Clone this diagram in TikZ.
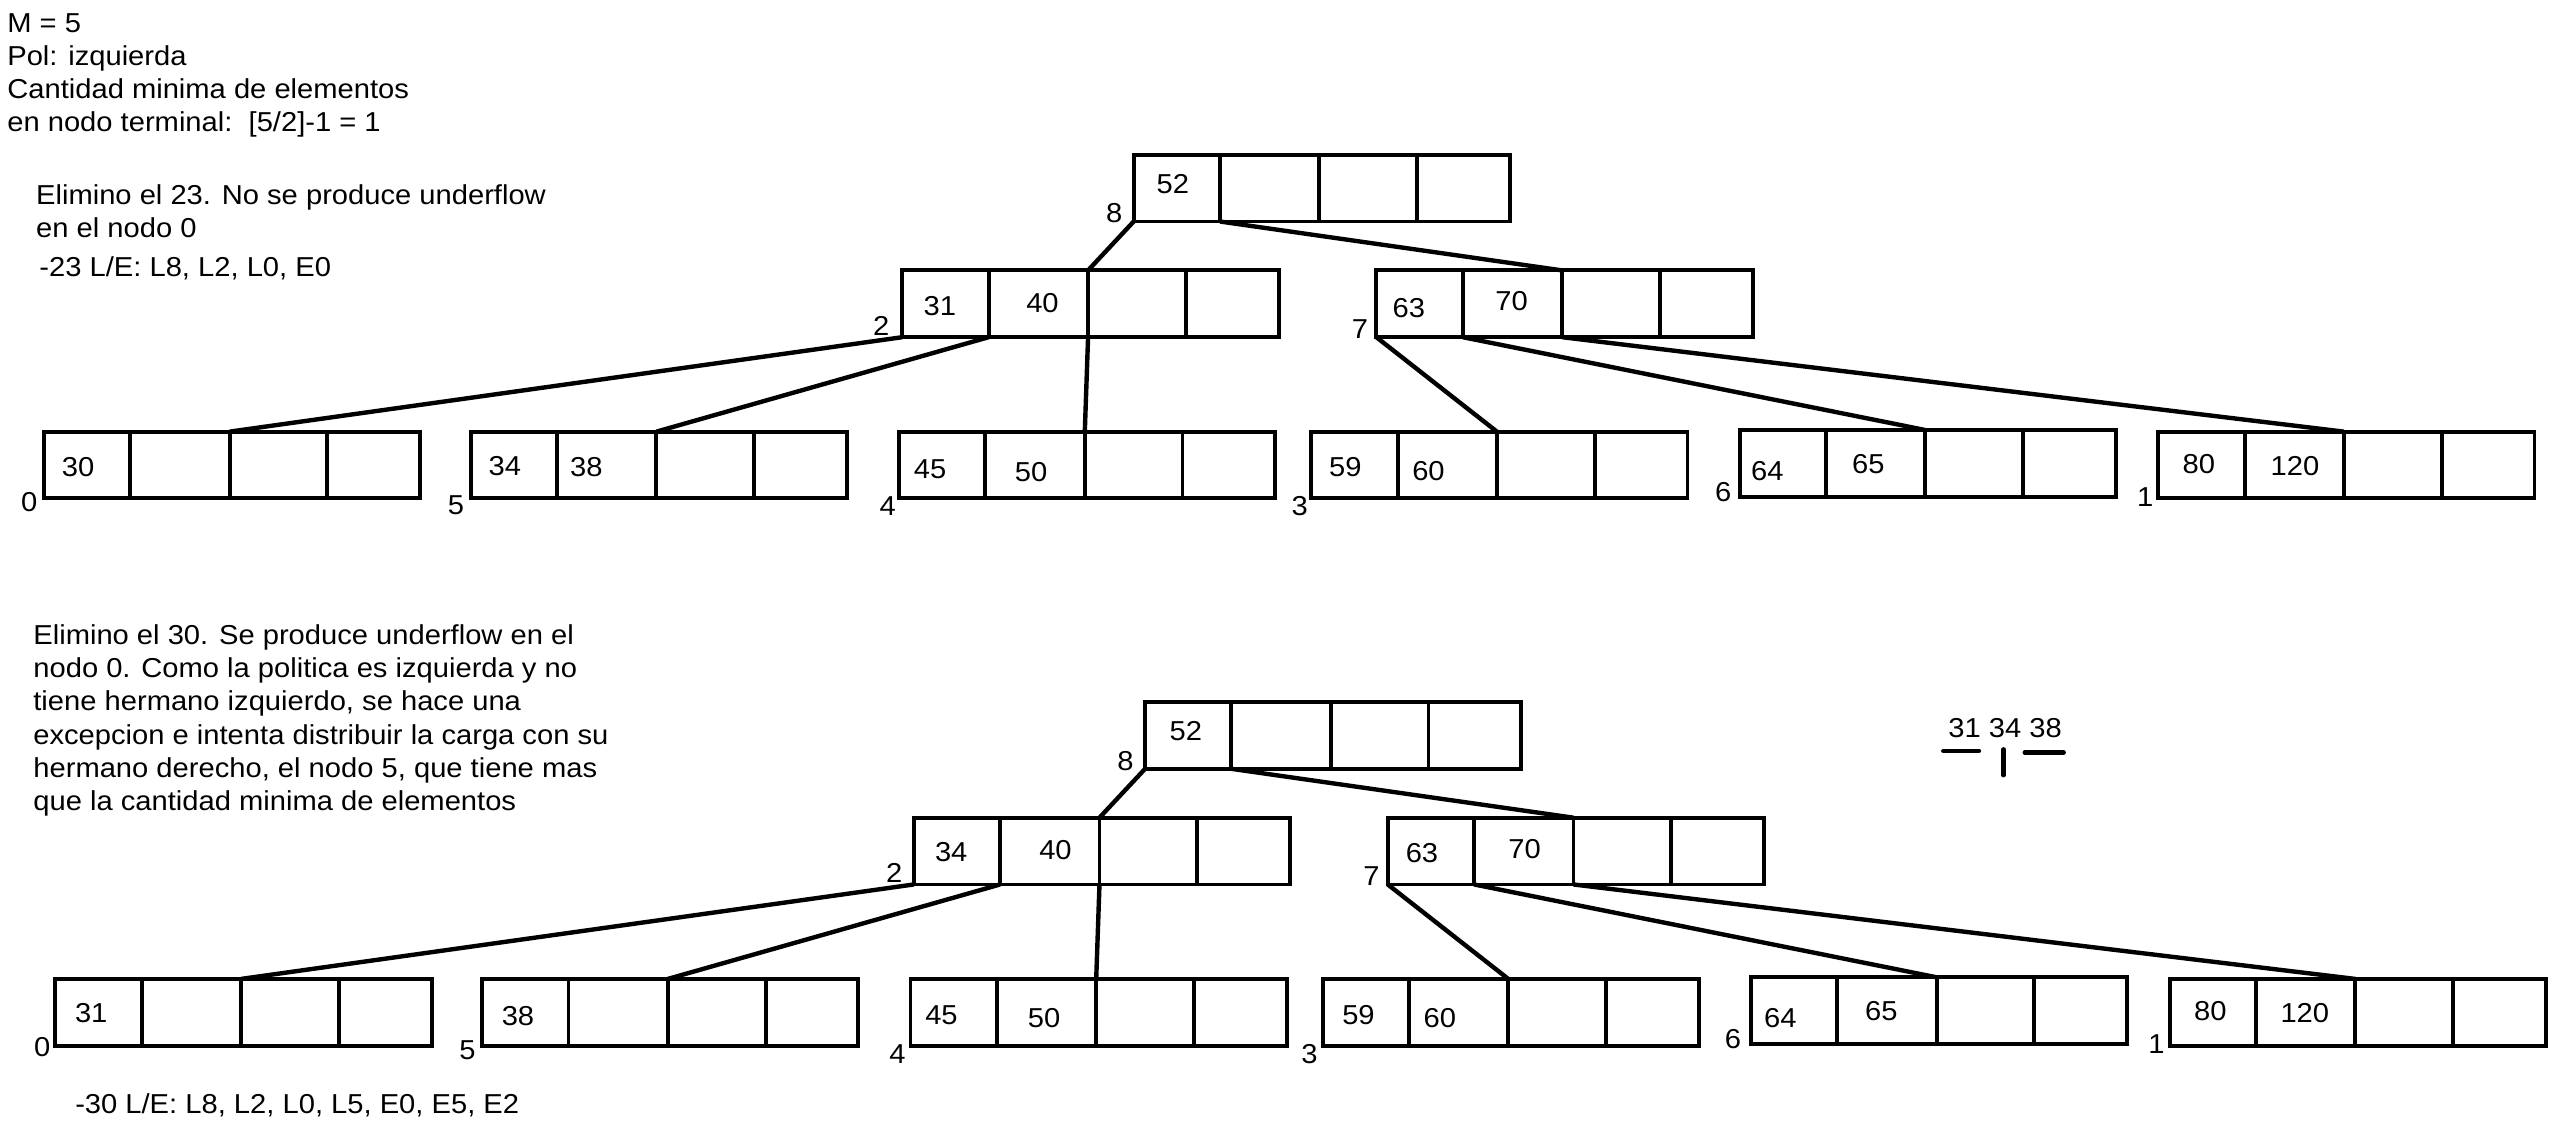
\documentclass[tikz,border=0pt]{standalone}
\usepackage{fontspec}
\setmainfont{Liberation Sans}[FakeStretch=1.065]

\tikzset{
  celda/.style={draw, line width=2.4pt, minimum height=41pt, inner sep=0pt, outer sep=0pt, anchor=north west},
  rama/.style={line width=2.7pt},
  num/.style={inner sep=0pt},
  texto/.style={inner sep=0pt, align=left, anchor=north west},
  marca/.style={line width=2.6pt, line cap=round}
}

% un nodo del arbol: cuatro celdas
\newcommand\bloque[3]{%
  \node[celda, minimum width=53pt] (#1-1) at (#2,#3) {};
  \node[celda, minimum width=61pt] (#1-2) at (#1-1.north east) {};
  \node[celda, minimum width=60pt] (#1-3) at (#1-2.north east) {};
  \node[celda, minimum width=57pt] (#1-4) at (#1-3.north east) {};
}

\begin{document}
\begin{tikzpicture}[x=1pt, y=-1pt, font=\fontsize{16.8}{20.3}\selectfont]
\useasboundingbox (0,0) rectangle (1568,698.7);

% textos
\node[texto] (datos) at (4.3,8) {M = 5\\Pol: izquierda\\Cantidad minima de elementos\\en nodo terminal:\ \ [5/2]-1 = 1};
\node[texto] (paso1) at (22,113) {Elimino el 23. No se produce underflow\\en el nodo 0};
\node[num, anchor=base west] (le1) at (24,170) {-23 L/E: L8, L2, L0, E0};
\node[texto, font=\fontsize{16.8}{20.5}\selectfont] (paso2) at (20.3,383) {Elimino el 30. Se produce underflow en el\\nodo 0. Como la politica es izquierda y no\\tiene hermano izquierdo, se hace una\\excepcion e intenta distribuir la carga con su\\hermano derecho, el nodo 5, que tiene mas\\que la cantidad minima de elementos};
\node[num, anchor=base west] (le2) at (46,683.5) {-30 L/E: L8, L2, L0, L5, E0, E5, E2};

% arbol antes
\bloque{a8}{696}{95}
\bloque{a2}{554}{166}
\bloque{a7}{845}{166}
\bloque{a0}{27}{265}
\bloque{a5}{289}{265}
\bloque{a4}{552}{265}
\bloque{a3}{805}{265}
\bloque{a6}{1068}{264}
\bloque{a1}{1325}{265}

\draw[rama] (a8-1.south west) -- (a2-3.north west);
\draw[rama] (a8-2.south west) -- (a7-3.north west);
\draw[rama] (a2-1.south west) -- (a0-3.north west);
\draw[rama] (a2-2.south west) -- (a5-3.north west);
\draw[rama] (a2-3.south west) -- (a4-3.north west);
\draw[rama] (a7-1.south west) -- (a3-3.north west);
\draw[rama] (a7-2.south west) -- (a6-3.north west);
\draw[rama] (a7-3.south west) -- (a1-3.north west);

\node[num] (a8v1) at (720,113) {52};
\node[num] (a2v1) at (577,188) {31};
\node[num] (a2v2) at (640,186) {40};
\node[num] (a7v1) at (865,189) {63};
\node[num] (a7v2) at (928,185) {70};
\node[num] (a0v1) at (48,287) {30};
\node[num] (a5v1) at (310,286) {34};
\node[num] (a5v2) at (360,287) {38};
\node[num] (a4v1) at (571,288) {45};
\node[num] (a4v2) at (633,290) {50};
\node[num] (a3v1) at (826,287) {59};
\node[num] (a3v2) at (877,289) {60};
\node[num] (a6v1) at (1085,289) {64};
\node[num] (a6v2) at (1147,285) {65};
\node[num] (a1v1) at (1350,285) {80};
\node[num] (a1v2) at (1409,286) {120};

\node[num] (ida8) at (684,131) {8};
\node[num] (ida2) at (541,200) {2};
\node[num] (ida7) at (835,202) {7};
\node[num] (ida0) at (18,308) {0};
\node[num] (ida5) at (280,310) {5};
\node[num] (ida4) at (545,311) {4};
\node[num] (ida3) at (798,311) {3};
\node[num] (ida6) at (1058,302) {6};
\node[num] (ida1) at (1317,305) {1};

% arbol despues
\bloque{b8}{703}{431}
\bloque{b2}{561}{502}
\bloque{b7}{852}{502}
\bloque{b0}{34}{601}
\bloque{b5}{296}{601}
\bloque{b4}{559}{601}
\bloque{b3}{812}{601}
\bloque{b6}{1075}{600}
\bloque{b1}{1332}{601}

\draw[rama] (b8-1.south west) -- (b2-3.north west);
\draw[rama] (b8-2.south west) -- (b7-3.north west);
\draw[rama] (b2-1.south west) -- (b0-3.north west);
\draw[rama] (b2-2.south west) -- (b5-3.north west);
\draw[rama] (b2-3.south west) -- (b4-3.north west);
\draw[rama] (b7-1.south west) -- (b3-3.north west);
\draw[rama] (b7-2.south west) -- (b6-3.north west);
\draw[rama] (b7-3.south west) -- (b1-3.north west);

\node[num] (b8v1) at (728,449) {52};
\node[num] (b2v1) at (584,523) {34};
\node[num] (b2v2) at (648,522) {40};
\node[num] (b7v1) at (873,524) {63};
\node[num] (b7v2) at (936,521) {70};
\node[num] (b0v1) at (56,622) {31};
\node[num] (b5v1) at (318,624) {38};
\node[num] (b4v1) at (578,623) {45};
\node[num] (b4v2) at (641,625) {50};
\node[num] (b3v1) at (834,623) {59};
\node[num] (b3v2) at (884,625) {60};
\node[num] (b6v1) at (1093,625) {64};
\node[num] (b6v2) at (1155,621) {65};
\node[num] (b1v1) at (1357,621) {80};
\node[num] (b1v2) at (1415,622) {120};

\node[num] (idb8) at (691,467) {8};
\node[num] (idb2) at (549,536) {2};
\node[num] (idb7) at (842,538) {7};
\node[num] (idb0) at (26,643) {0};
\node[num] (idb5) at (287,645) {5};
\node[num] (idb4) at (551,647) {4};
\node[num] (idb3) at (804,647) {3};
\node[num] (idb6) at (1064,638) {6};
\node[num] (idb1) at (1324,641) {1};

% reparto
\node[num, anchor=base] (reparto) at (1231,453) {31 34 38};
\draw[marca] (1193,461) -- (1215,461);
\draw[marca] (1230,460) -- (1230,476);
\draw[marca] (1243,462) -- (1267,462);
\end{tikzpicture}
\end{document}
